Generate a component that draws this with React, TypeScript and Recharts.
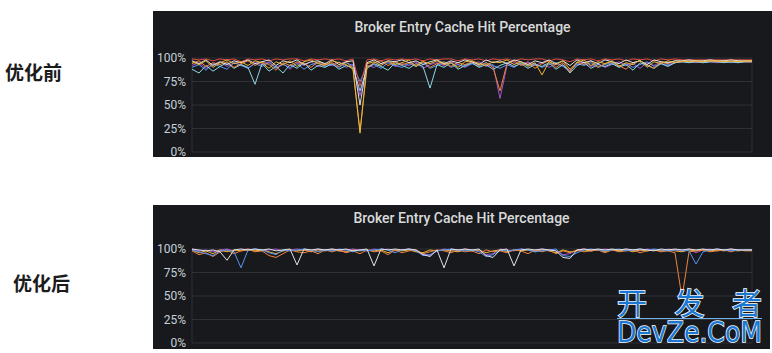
import { LineChart, Line, XAxis, YAxis, CartesianGrid } from "recharts";

// 81 samples per panel, read left to right off the two screenshots
const slots = Array.from({ length: 81 }, (_, i) => i);
const xTicks = [0, 10, 20, 30, 40, 50, 60, 70, 80];
const percentTicks = [0, 25, 50, 75, 100];

// before optimisation
const beforeYellow = [
  96, 93, 97, 90, 95, 98, 94, 96, 92, 97,
  95, 89, 96, 93, 97, 91, 96, 98, 94, 92,
  97, 95, 93, 88, 20, 94, 96, 92, 97, 93,
  95, 98, 91, 96, 94, 97, 93, 95, 90, 96,
  97, 94, 92, 96, 95, 98, 93, 96, 91, 95,
  82, 96, 93, 97, 88, 95, 98, 92, 96, 94,
  97, 91, 95, 93, 98, 90, 96, 94, 97, 95,
  97, 96, 97, 96, 97, 97, 96, 97, 96, 97, 97,
];
const beforeOrange = [
  94, 97, 91, 95, 93, 96, 90, 94, 97, 92,
  96, 93, 87, 95, 92, 96, 94, 90, 96, 93,
  95, 91, 96, 89, 22, 90, 95, 97, 92, 96,
  93, 95, 92, 97, 90, 94, 96, 91, 95, 93,
  96, 92, 95, 90, 65, 94, 97, 92, 95, 89,
  94, 97, 90, 95, 85, 96, 93, 97, 90, 94,
  96, 92, 88, 95, 97, 93, 89, 96, 94, 97,
  96, 97, 96, 96, 97, 96, 97, 96, 97, 96, 96,
];
const beforePurple = [
  92, 95, 89, 93, 96, 91, 95, 93, 89, 95,
  93, 96, 90, 94, 88, 95, 92, 96, 91, 94,
  92, 96, 90, 93, 60, 92, 90, 94, 96, 91,
  94, 92, 96, 89, 93, 95, 92, 96, 93, 90,
  94, 96, 91, 93, 57, 92, 95, 93, 96, 92,
  95, 90, 94, 92, 87, 93, 96, 91, 94, 90,
  93, 96, 92, 94, 89, 95, 92, 96, 93, 95,
  96, 96, 95, 96, 96, 95, 96, 96, 95, 96, 96,
];
const beforeCyan = [
  88, 84, 92, 86, 91, 95, 89, 93, 90, 72,
  94, 86, 91, 84, 93, 89, 95, 87, 92, 90,
  94, 88, 92, 90, 65, 89, 94, 91, 87, 95,
  92, 89, 94, 91, 68, 93, 90, 95, 88, 92,
  95, 90, 93, 88, 92, 95, 91, 94, 89, 93,
  91, 95, 88, 93, 84, 92, 95, 89, 93, 91,
  94, 90, 93, 87, 95, 92, 89, 94, 91, 95,
  96, 95, 96, 95, 96, 96, 95, 96, 95, 96, 96,
];
const beforeWhite = [
  97, 94, 98, 92, 96, 93, 97, 95, 98, 94,
  96, 98, 92, 97, 95, 98, 93, 96, 97, 94,
  98, 93, 96, 97, 50, 95, 98, 94, 97, 96,
  98, 95, 97, 93, 96, 98, 94, 97, 95, 98,
  96, 93, 98, 95, 97, 94, 98, 96, 93, 97,
  95, 98, 94, 97, 92, 98, 95, 97, 94, 98,
  96, 94, 98, 95, 97, 93, 98, 96, 95, 97,
  97, 98, 97, 97, 98, 97, 97, 98, 97, 97, 97,
];
const beforeBlue = [
  90, 93, 87, 94, 91, 88, 95, 92, 89, 94,
  91, 95, 89, 93, 90, 94, 88, 93, 95, 91,
  93, 90, 95, 92, 75, 91, 93, 89, 95, 92,
  90, 94, 91, 95, 89, 92, 95, 90, 93, 91,
  94, 91, 95, 92, 89, 93, 90, 95, 92, 94,
  90, 93, 95, 91, 86, 94, 92, 95, 90, 93,
  95, 91, 94, 90, 93, 96, 91, 94, 92, 95,
  96, 96, 96, 95, 96, 96, 96, 95, 96, 96, 96,
];
const beforeRed = [
  99, 98, 99, 97, 99, 98, 99, 96, 99, 98,
  99, 97, 99, 98, 99, 99, 97, 99, 98, 99,
  98, 99, 97, 99, 70, 98, 99, 97, 99, 98,
  99, 98, 99, 97, 99, 98, 99, 99, 97, 99,
  98, 99, 97, 99, 98, 99, 97, 99, 98, 99,
  99, 97, 99, 98, 96, 99, 98, 99, 97, 99,
  98, 99, 97, 99, 98, 99, 97, 99, 98, 99,
  98, 98, 98, 98, 98, 98, 98, 98, 98, 98, 98,
];

// after optimisation
const afterWhite = [
  100, 99, 98, 99, 97, 88, 99, 100, 99, 100,
  99, 100, 98, 99, 100, 83, 100, 99, 100, 99,
  100, 99, 100, 98, 99, 100, 82, 100, 99, 100,
  99, 100, 99, 94, 92, 99, 80, 100, 99, 100,
  99, 100, 93, 91, 99, 100, 82, 99, 100, 99,
  100, 99, 98, 91, 90, 99, 100, 99, 100, 99,
  100, 99, 100, 99, 100, 99, 98, 100, 99, 100,
  99, 100, 99, 100, 99, 100, 99, 100, 99, 99, 99,
];
const afterBlue = [
  99, 97, 95, 93, 98, 99, 97, 80, 99, 100,
  99, 96, 94, 99, 98, 99, 100, 99, 97, 99,
  98, 100, 99, 97, 99, 98, 99, 100, 99, 96,
  99, 100, 98, 93, 94, 98, 99, 100, 99, 98,
  99, 97, 92, 94, 99, 98, 99, 100, 99, 97,
  98, 99, 100, 93, 92, 96, 99, 100, 99, 98,
  99, 100, 98, 99, 100, 99, 100, 99, 98, 99,
  99, 98, 84, 97, 99, 100, 99, 98, 99, 99, 99,
];
const afterOrange = [
  98, 94, 96, 92, 97, 99, 95, 98, 100, 97,
  98, 93, 91, 95, 99, 97, 96, 98, 95, 99,
  97, 99, 96, 98, 95, 99, 97, 98, 94, 99,
  96, 98, 99, 95, 97, 99, 98, 96, 99, 97,
  98, 95, 99, 97, 98, 96, 99, 98, 95, 99,
  97, 99, 95, 98, 96, 99, 97, 98, 99, 96,
  99, 97, 98, 99, 96, 98, 99, 97, 98, 96,
  48, 97, 98, 99, 97, 98, 99, 97, 99, 98, 98,
];
const afterYellow = [
  99, 96, 98, 95, 99, 97, 99, 98, 99, 98,
  99, 97, 95, 98, 99, 98, 99, 97, 99, 98,
  99, 98, 97, 99, 98, 99, 98, 99, 96, 99,
  98, 99, 97, 96, 99, 98, 99, 98, 97, 99,
  98, 99, 96, 98, 99, 97, 99, 98, 99, 97,
  99, 98, 96, 99, 97, 98, 99, 98, 99, 97,
  99, 98, 99, 97, 99, 98, 99, 98, 99, 98,
  97, 99, 98, 99, 98, 99, 98, 99, 98, 99, 99,
];
const afterPurple = [
  100, 98, 99, 97, 99, 100, 98, 99, 100, 99,
  98, 99, 100, 98, 99, 100, 99, 98, 100, 99,
  100, 98, 99, 100, 99, 98, 100, 99, 100, 98,
  99, 100, 98, 95, 93, 98, 100, 99, 98, 100,
  99, 98, 94, 95, 100, 99, 98, 100, 99, 98,
  100, 99, 98, 94, 95, 99, 100, 98, 99, 100,
  99, 98, 100, 99, 98, 100, 99, 98, 100, 99,
  98, 100, 96, 99, 100, 98, 99, 100, 99, 99, 99,
];

const beforeRows = slots.map((x, i) => ({
  x,
  purple: beforePurple[i],
  blue: beforeBlue[i],
  cyan: beforeCyan[i],
  orange: beforeOrange[i],
  yellow: beforeYellow[i],
  red: beforeRed[i],
  white: beforeWhite[i],
}));

const afterRows = slots.map((x, i) => ({
  x,
  purple: afterPurple[i],
  yellow: afterYellow[i],
  blue: afterBlue[i],
  white: afterWhite[i],
  orange: afterOrange[i],
}));

const beforeSeries = [
  { key: "purple", color: "#a352cc" },
  { key: "blue", color: "#5794f2" },
  { key: "cyan", color: "#8ed6e3" },
  { key: "red", color: "#e24d42" },
  { key: "orange", color: "#ef843c" },
  { key: "white", color: "#dfe3e6" },
  { key: "yellow", color: "#eab839" },
];

const afterSeries = [
  { key: "purple", color: "#a352cc" },
  { key: "yellow", color: "#eab839" },
  { key: "orange", color: "#ef843c" },
  { key: "blue", color: "#5794f2" },
  { key: "white", color: "#dfe3e6" },
];

const PANEL_BG = "#18191c";
const GRID = "#2f3136";

function Panel({ top, width, height, plotTop, titleTop, rows, series }) {
  const plotBottom = plotTop + 94;
  return (
    <div style={{ position: "absolute", left: 153, top, width, height, background: PANEL_BG }}>
      <div
        style={{
          position: "absolute",
          top: titleTop,
          left: 0,
          width: "100%",
          textAlign: "center",
          color: "#d8d9da",
          font: "500 14px Roboto, sans-serif",
          lineHeight: "16px",
        }}
      >
        Broker Entry Cache Hit Percentage
      </div>
      <div style={{ position: "absolute", left: 0, top: 0 }}>
        <LineChart
          width={width}
          height={height}
          data={rows}
          margin={{ top: plotTop, right: width - 599, bottom: height - plotBottom - 1, left: 0 }}
        >
          <CartesianGrid stroke={GRID} strokeWidth={1} />
          <XAxis
            dataKey="x"
            type="number"
            domain={[0, 80]}
            ticks={xTicks}
            tick={false}
            axisLine={false}
            tickLine={false}
            height={1}
          />
          <YAxis
            domain={[0, 100]}
            ticks={percentTicks}
            interval={0}
            tickFormatter={(v) => `${v}%`}
            tick={{ fill: "#c7d0d9", fontSize: 12, fontFamily: "Roboto, sans-serif" }}
            axisLine={false}
            tickLine={false}
            tickSize={4}
            tickMargin={2}
            width={39}
          />
          {series.map((s) => (
            <Line
              key={s.key}
              type="linear"
              dataKey={s.key}
              stroke={s.color}
              strokeWidth={1}
              dot={false}
              isAnimationActive={false}
            />
          ))}
        </LineChart>
      </div>
    </div>
  );
}

const sideLabel = {
  position: "absolute" as const,
  font: "700 19px 'Noto Sans CJK SC', sans-serif",
  lineHeight: "20px",
  color: "#1b1b1b",
};

export default function App() {
  return (
    <div style={{ position: "absolute", left: 0, top: 0, width: 772, height: 353, background: "#fff", overflow: "hidden" }}>
      <div style={{ ...sideLabel, left: 5, top: 62 }}>优化前</div>
      <div style={{ ...sideLabel, left: 13, top: 273 }}>优化后</div>
      <Panel top={11} width={619} height={146} plotTop={47} titleTop={8} rows={beforeRows} series={beforeSeries} />
      <Panel top={205} width={617} height={144} plotTop={44} titleTop={5} rows={afterRows} series={afterSeries} />
      <svg style={{ position: "absolute", left: 0, top: 0 }} width={772} height={353}>
        <text
          x={617}
          y={314}
          fontSize={30}
          fontFamily="'Noto Sans CJK SC', sans-serif"
          fill="#1a78d4"
          stroke="#ffffff"
          strokeWidth={1.5}
          paintOrder="stroke"
          textLength={145}
          lengthAdjust="spacing"
        >
          开发者
        </text>
        <line x1={617} x2={762} y1={318.5} y2={318.5} stroke="#6fb3ee" strokeWidth={1} />
        <text
          x={617}
          y={342}
          fontSize={29}
          fontFamily="'DejaVu Sans', sans-serif"
          fill="#1a78d4"
          stroke="#ffffff"
          strokeWidth={1.5}
          paintOrder="stroke"
          textLength={145}
          lengthAdjust="spacingAndGlyphs"
        >
          DevZe.CoM
        </text>
      </svg>
    </div>
  );
}
